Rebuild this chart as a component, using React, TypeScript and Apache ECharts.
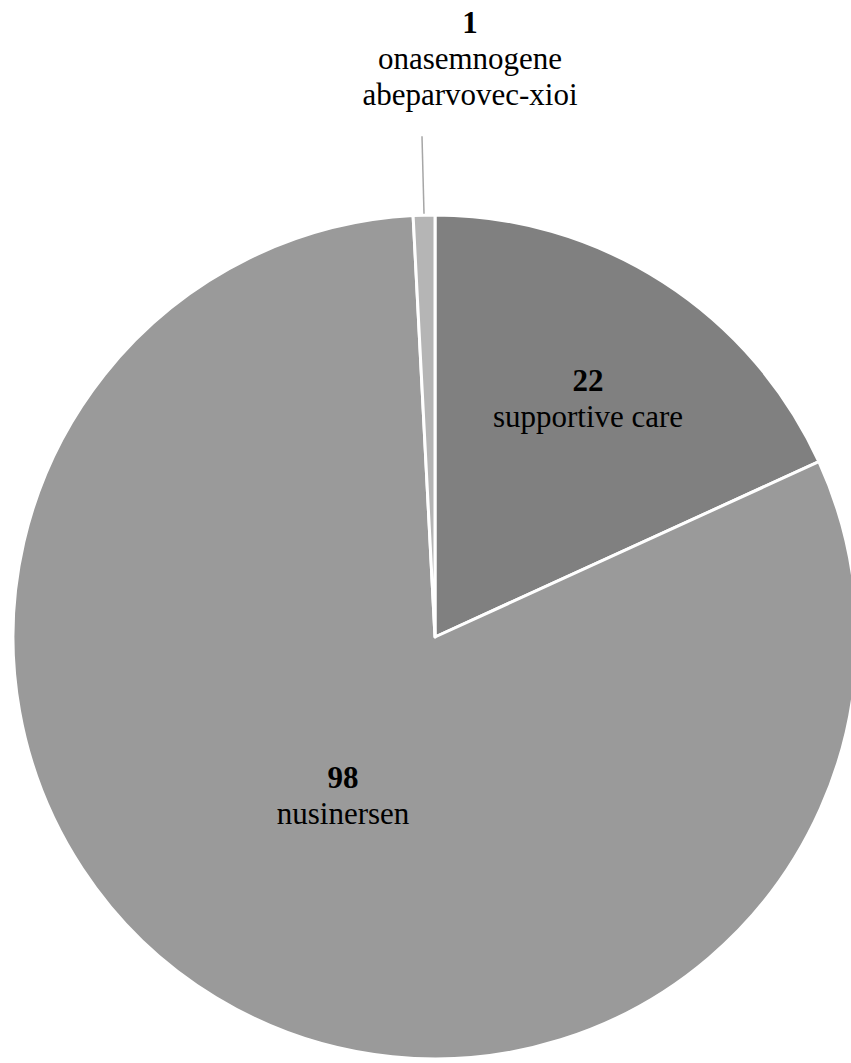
import React, { useEffect, useRef } from "react";
import * as echarts from "echarts";

// Patients by treatment
const treatments = ["supportive care", "nusinersen", "onasemnogene\nabeparvovec-xioi"];
const patientCounts = [22, 98, 1];
const sliceColors = ["#808080", "#9a9a9a", "#b5b5b5"];
// Only the tiny slice gets an outside label with a leader line
const outsideLabel = [false, false, true];

const SERIF = "'Liberation Serif', 'Times New Roman', serif";

export default function App() {
  const ref = useRef<HTMLDivElement>(null);

  useEffect(() => {
    document.body.style.margin = "0";
    if (!ref.current) return;
    const chart = echarts.init(ref.current, null, { renderer: "svg" });

    const data = treatments.map((name, i) => ({
      name,
      value: patientCounts[i],
      itemStyle: { color: sliceColors[i] },
      labelLine: { show: outsideLabel[i] },
    }));

    // Where each label block sits: [x, y, verticalAlign]
    const labelSpots: Array<[number, number, string]> = [
      [588, 398, "middle"],
      [343, 795, "middle"],
      [470, 4, "top"],
    ];

    chart.setOption({
      animation: false,
      backgroundColor: "#ffffff",
      series: [
        {
          type: "pie",
          center: [435, 637],
          radius: 422,
          startAngle: 90,
          clockwise: true,
          avoidLabelOverlap: false,
          data,
          itemStyle: { borderColor: "#ffffff", borderWidth: 3 },
          label: {
            show: true,
            position: "outside",
            align: "center",
            fontFamily: SERIF,
            fontSize: 31,
            color: "#000000",
            formatter: (p: any) =>
              `{v|${p.value}}\n` +
              String(p.name)
                .split("\n")
                .map((s) => `{n|${s}}`)
                .join("\n"),
            rich: {
              v: {
                fontFamily: SERIF,
                fontWeight: "bold",
                fontSize: 31,
                color: "#000000",
                lineHeight: 36,
                align: "center",
              },
              n: {
                fontFamily: SERIF,
                fontSize: 31,
                color: "#000000",
                lineHeight: 36,
                align: "center",
              },
            },
          },
          labelLine: {
            show: true,
            length: 79,
            length2: 0,
            lineStyle: { color: "#a6a6a6", width: 1.5 },
          },
          labelLayout: (params: any) => {
            const s = labelSpots[params.dataIndex];
            return {
              x: s[0],
              y: s[1],
              align: "center",
              verticalAlign: s[2],
              // keep the radial leader line that the pie layout computed
              labelLinePoints: params.labelLinePoints,
            };
          },
        },
      ],
    });

    return () => chart.dispose();
  }, []);

  return <div ref={ref} style={{ width: 851, height: 1063 }} />;
}
